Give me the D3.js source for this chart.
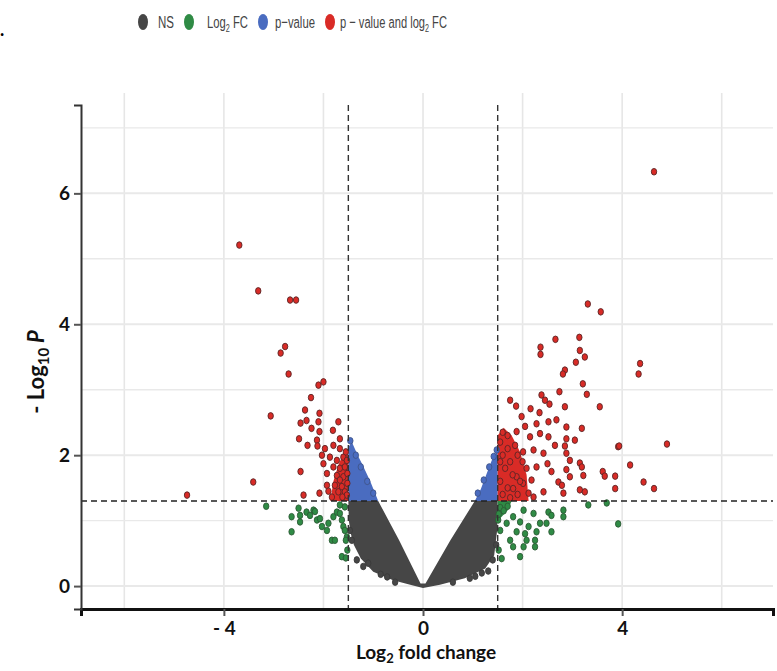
<!DOCTYPE html>
<html>
<head>
<meta charset="utf-8">
<script src="https://cdn.jsdelivr.net/npm/d3@7"></script>
<style>
  body { margin: 0; background: #fff; }
  svg { display: block; }
</style>
</head>
<body>
<div id="chart"></div>
<script>
// values (log2 fold change, -log10 p)
var xTicks = [-4, 0, 4];
var xTickLabels = ["- 4", "0", "4"];
var yTicks = [0, 2, 4, 6];
var xGrid = [-6, -4, -2, 0, 2, 4, 6];
var yGrid = [0, 1, 2, 3, 4, 5, 6, 7];
var fcCutoff = 1.5;
var pCutoff = 1.3;

var legendLabels = ["NS", "Log2 FC", "p-value", "p - value and log2 FC"];

// dense grey V of non significant genes (outline)
var nsBand = [
  [-1.5, 1.3], [-1.49, 1.0], [-1.45, 0.8], [-1.39, 0.63], [-1.25, 0.42], [-1.0, 0.22],
  [-0.6, 0.09], [-0.2, 0.01], [0, -0.03], [0.34, 0.02], [0.84, 0.12], [1.25, 0.27],
  [1.43, 0.47], [1.49, 0.86], [1.5, 1.3], [1.04, 1.3], [0.55, 0.7], [0.05, 0.04],
  [-0.05, 0.04], [-0.48, 0.7], [-0.9, 1.3]
];
var pBandLeft = [[-1.5, 1.3], [-1.5, 2.12], [-1.43, 2.2], [-1.3, 1.98], [-1.22, 1.86], [-1.06, 1.6], [-0.9, 1.3]];
var pBandRight = [[1.04, 1.3], [1.16, 1.48], [1.27, 1.7], [1.38, 1.92], [1.45, 2.02], [1.5, 2.06], [1.5, 1.3]];
var bothCoreLeft = [[-1.5, 1.3], [-1.5, 2.0], [-1.6, 2.02], [-1.7, 1.85], [-1.8, 1.6], [-1.86, 1.3]];
var bothCoreRight = [[1.5, 1.3], [1.5, 2.3], [1.62, 2.42], [1.78, 2.3], [1.95, 2.05], [2.08, 1.7], [2.12, 1.3]];
var fcCoreRight = [[1.5, 1.3], [1.78, 1.3], [1.7, 1.16], [1.58, 1.06], [1.5, 1.0]];

var nsPoints = [
  [-1.33, 0.40], [-1.10, 0.35], [-0.72, 0.14], [-0.56, 0.06], [-1.43, 0.70], [-1.47, 0.85],
  [-1.2, 0.3], [-0.85, 0.18], [0.94, 0.12], [1.18, 0.20], [1.31, 0.23], [1.47, 0.63],
  [1.05, 0.15], [1.4, 0.4], [0.6, 0.06]
];
var pPoints = [
  [-1.46, 2.22], [-1.35, 2.0], [-1.25, 1.82], [-1.12, 1.6], [-1.0, 1.42],
  [1.1, 1.42], [1.22, 1.62], [1.33, 1.82], [1.42, 1.98], [1.48, 2.08]
];
var fcPoints = [
  [-2.64, 1.06], [-2.50, 1.19], [-2.47, 0.98], [-2.34, 1.13], [-2.20, 1.16], [-2.13, 1.01],
  [-2.03, 0.91], [-1.93, 0.85], [-1.80, 1.06], [-1.73, 1.13], [-1.63, 1.01], [-1.60, 0.91],
  [-1.53, 0.75], [-1.83, 0.70], [-1.63, 0.45], [-2.64, 0.83], [-1.57, 1.21], [-1.67, 1.24],
  [-2.47, 1.08], [-2.27, 1.08], [-2.17, 1.14], [-2.07, 1.03], [-1.90, 0.96], [-1.77, 0.70],
  [-1.67, 1.11], [-1.57, 0.85], [-1.55, 0.70], [-1.52, 0.55], [-1.55, 0.43], [-3.15, 1.22],
  [1.51, 1.01], [1.55, 0.85], [1.68, 0.96], [1.81, 1.06], [1.95, 0.98], [1.88, 0.83],
  [1.75, 0.70], [2.08, 0.70], [2.22, 1.11], [1.81, 0.60], [1.95, 0.45], [1.52, 0.55],
  [1.58, 0.42], [2.12, 0.91], [2.28, 0.83], [2.02, 1.16], [2.35, 0.96], [2.52, 1.13],
  [2.58, 1.08], [2.48, 0.96], [2.58, 0.83], [2.25, 0.70], [2.25, 0.60], [2.82, 1.16],
  [2.82, 1.06], [3.32, 1.24], [3.69, 1.27], [3.92, 0.95], [2.05, 0.80], [2.02, 0.60],
  [1.55, 1.2], [1.62, 1.15], [1.7, 1.22], [1.52, 1.1]
];
var bothPoints = [
  // left
  [-4.74, 1.39], [-3.41, 1.59], [-3.69, 5.21], [-3.31, 4.51], [-2.67, 4.37], [-2.55, 4.37],
  [-2.77, 3.66], [-2.86, 3.56], [-2.70, 3.24], [-2.10, 3.07], [-2.00, 3.12], [-2.25, 2.88],
  [-3.06, 2.60], [-2.37, 2.69], [-2.34, 2.53], [-2.46, 2.49], [-2.08, 2.64], [-2.10, 2.51],
  [-2.24, 2.41], [-1.70, 2.51], [-1.81, 2.38], [-2.08, 2.36], [-2.49, 2.25], [-2.13, 2.23],
  [-1.67, 2.25], [-2.32, 2.15], [-2.12, 2.14], [-1.97, 2.10], [-1.80, 2.15], [-1.67, 2.10],
  [-2.03, 2.00], [-1.87, 1.97], [-1.73, 1.92], [-1.60, 1.97], [-2.00, 1.87], [-1.80, 1.82],
  [-1.67, 1.80], [-1.57, 1.82], [-2.46, 1.75], [-1.93, 1.72], [-1.73, 1.69], [-1.60, 1.67],
  [-1.93, 1.54], [-1.77, 1.54], [-1.63, 1.52], [-2.08, 1.42], [-1.70, 1.44], [-1.57, 1.44],
  [-2.40, 1.39], [-1.83, 1.36], [-1.53, 1.39], [-1.67, 1.62], [-1.52, 1.57], [-1.53, 1.92],
  [-1.52, 1.72], [-1.9, 1.45], [-1.62, 1.36], [-1.55, 2.05],
  // right
  [4.64, 6.33], [3.31, 4.31], [3.57, 4.19], [2.66, 3.77], [3.14, 3.80], [2.36, 3.65],
  [2.36, 3.54], [3.15, 3.60], [3.25, 3.50], [3.07, 3.42], [2.85, 3.30], [2.81, 3.24],
  [3.21, 3.09], [3.29, 2.93], [2.74, 2.97], [2.38, 2.92], [2.45, 2.84], [2.54, 2.78],
  [1.75, 2.84], [1.87, 2.75], [2.16, 2.71], [2.34, 2.65], [2.85, 2.74], [3.55, 2.74],
  [1.98, 2.59], [2.05, 2.44], [2.28, 2.48], [2.52, 2.51], [2.68, 2.54], [2.88, 2.43],
  [3.19, 2.41], [2.35, 2.33], [2.15, 2.28], [1.88, 2.36], [2.52, 2.28], [2.88, 2.25],
  [3.05, 2.23], [2.65, 2.15], [2.85, 2.14], [3.92, 2.13], [2.88, 2.03], [2.42, 2.03],
  [2.22, 2.08], [2.01, 2.05], [2.95, 1.92], [3.15, 1.88], [2.50, 1.87], [2.28, 1.82],
  [2.08, 1.80], [3.19, 1.82], [4.16, 1.85], [2.58, 1.75], [2.88, 1.78], [3.61, 1.75],
  [3.65, 1.68], [2.95, 1.67], [3.22, 1.69], [2.72, 1.59], [3.86, 1.68], [2.42, 1.44],
  [2.79, 1.54], [2.82, 1.42], [3.15, 1.47], [3.25, 1.44], [3.86, 1.49], [2.18, 1.62],
  [2.01, 1.57], [1.88, 1.67], [1.81, 1.49], [2.22, 1.36], [2.12, 1.42], [4.36, 3.40],
  [4.33, 3.24], [4.90, 2.17], [3.94, 2.14], [4.43, 1.59], [4.64, 1.49],
  [1.55, 2.2], [1.6, 2.0], [1.7, 2.1], [1.65, 1.8], [1.75, 1.9], [1.55, 1.6], [1.7, 1.5],
  [1.8, 1.7], [1.9, 2.0], [1.95, 1.6], [1.6, 1.4], [1.75, 1.35], [1.9, 1.4], [2.0, 1.9],
  [1.55, 1.9], [1.6, 2.35], [1.7, 2.3], [1.85, 2.15]
];

var colNS = "#464646", colFC = "#2f8b45", colP = "#4a6cc0", colBoth = "#d92b26";

//////////////////////////////////////////////////////////////////////////////

var margin = { top: 105, right: 4, bottom: 62, left: 81 };
var width = 777 - margin.left - margin.right;
var height = 671 - margin.top - margin.bottom;

var svgRoot = d3.select("#chart").append("svg")
  .attr("width", 777)
  .attr("height", 671);

var svg = svgRoot.append("g")
  .attr("transform", "translate(" + margin.left + "," + margin.top + ")");

var xScale = d3.scaleLinear().domain([-6.87, 7.03]).range([0, width]);
var yScale = d3.scaleLinear().domain([-0.35, 7.35]).range([height, 0]);

// grid
svg.selectAll(".vgrid").data(xGrid).enter().append("line")
  .attr("x1", function(d) { return xScale(d); })
  .attr("x2", function(d) { return xScale(d); })
  .attr("y1", -12).attr("y2", height)
  .attr("stroke", "#e6e6e6").attr("stroke-width", 1.6);

svg.selectAll(".hgrid").data(yGrid).enter().append("line")
  .attr("x1", 0).attr("x2", width)
  .attr("y1", function(d) { return yScale(d); })
  .attr("y2", function(d) { return yScale(d); })
  .attr("stroke", "#e9e9e9").attr("stroke-width", function(d) { return d % 2 === 0 ? 2 : 1.4; });

// dense shapes
var line = d3.line()
  .x(function(d) { return xScale(d[0]); })
  .y(function(d) { return yScale(d[1]); })
  .curve(d3.curveLinearClosed);

svg.append("path").attr("d", line(nsBand)).attr("fill", colNS);
svg.append("path").attr("d", line(pBandLeft)).attr("fill", colP);
svg.append("path").attr("d", line(pBandRight)).attr("fill", colP);
svg.append("path").attr("d", line(fcCoreRight)).attr("fill", colFC);
svg.append("path").attr("d", line(bothCoreLeft)).attr("fill", colBoth);
svg.append("path").attr("d", line(bothCoreRight)).attr("fill", colBoth);

function drawPoints(data, fill, stroke) {
  svg.append("g").selectAll("ellipse")
    .data(data)
    .enter()
    .append("ellipse")
    .attr("cx", function(d) { return xScale(d[0]); })
    .attr("cy", function(d) { return yScale(d[1]); })
    .attr("rx", 2.7)
    .attr("ry", 3.3)
    .attr("fill", fill)
    .attr("stroke", stroke)
    .attr("stroke-width", 0.9);
}

drawPoints(nsPoints, colNS, "#3a3a3a");
drawPoints(pPoints, colP, "#40558a");
drawPoints(fcPoints, colFC, "#2d5a36");
drawPoints(bothPoints, colBoth, "#5a2626");

// cut-off lines
svg.selectAll(".vcut").data([-fcCutoff, fcCutoff]).enter().append("line")
  .attr("x1", function(d) { return xScale(d); })
  .attr("x2", function(d) { return xScale(d); })
  .attr("y1", 0).attr("y2", height)
  .attr("stroke", "#333").attr("stroke-width", 1.4)
  .attr("stroke-dasharray", "6,4");

svg.append("line")
  .attr("x1", 0).attr("x2", width)
  .attr("y1", yScale(pCutoff)).attr("y2", yScale(pCutoff))
  .attr("stroke", "#222").attr("stroke-width", 1.5)
  .attr("stroke-dasharray", "6,4");

// axes
var xAxis = svg.append("g")
  .attr("transform", "translate(0," + height + ")")
  .call(d3.axisBottom(xScale).tickValues(xTicks).tickSize(7).tickPadding(6)
    .tickFormat(function(d, i) { return xTickLabels[i]; }));
xAxis.select(".domain").attr("stroke", "#111").attr("stroke-width", 3);
xAxis.selectAll(".tick line").attr("stroke", "#555").attr("stroke-width", 2);
xAxis.selectAll("text")
  .style("font-family", "Lato, 'Open Sans', sans-serif")
  .style("font-weight", "bold").style("font-size", "19px").attr("fill", "#111");

var yAxis = svg.append("g")
  .call(d3.axisLeft(yScale).tickValues(yTicks).tickSize(7).tickPadding(4).tickFormat(d3.format("d")));
yAxis.select(".domain").attr("stroke", "#333").attr("stroke-width", 2);
yAxis.selectAll(".tick line").attr("stroke", "#555").attr("stroke-width", 2);
yAxis.selectAll("text")
  .style("font-family", "Lato, 'Open Sans', sans-serif")
  .style("font-weight", "bold").style("font-size", "19px").attr("fill", "#111");

// axis titles
var xTitle = svgRoot.append("text")
  .attr("x", 426).attr("y", 659)
  .attr("text-anchor", "middle")
  .style("font-family", "Lato, 'Open Sans', sans-serif")
  .style("font-weight", "bold").style("font-size", "19px").attr("fill", "#111");
xTitle.append("tspan").text("Log");
xTitle.append("tspan").text("2").attr("dy", 4).style("font-size", "13px");
xTitle.append("tspan").text(" fold change").attr("dy", -4);

var yTitle = svgRoot.append("text")
  .attr("transform", "translate(44,372) rotate(-90)")
  .attr("text-anchor", "middle")
  .style("font-family", "Lato, 'Open Sans', sans-serif")
  .style("font-weight", "bold").style("font-size", "22px").attr("fill", "#111");
yTitle.append("tspan").text("- Log");
yTitle.append("tspan").text("10").attr("dy", 5).style("font-size", "15px");
yTitle.append("tspan").text(" P").attr("dy", -5).style("font-style", "italic");

// legend (text squeezed horizontally like the picture)
var legendX = [143, 189, 263, 330];
var legendTextX = [158, 207, 275, 340];
var legendWidths = [16, 41, 40, 107];
var legendCols = [colNS, colFC, colP, colBoth];
var legend = svgRoot.append("g");

legendLabels.forEach(function(label, i) {
  legend.append("ellipse")
    .attr("cx", legendX[i]).attr("cy", 22)
    .attr("rx", 5).attr("ry", 8)
    .attr("fill", legendCols[i]);
  var g = legend.append("g");
  var t = g.append("text")
    .attr("x", 0).attr("y", 0)
    .style("font-family", "'Liberation Sans', sans-serif")
    .style("font-size", "17px").attr("fill", "#444");
  var m = label.match(/^(.*og)2(.*)$/);
  if (m) {
    t.append("tspan").text(m[1].replace(/-/g, "\u2212"));
    t.append("tspan").text("2").attr("dy", 4).style("font-size", "11px");
    t.append("tspan").text(m[2]).attr("dy", -4);
  } else {
    t.text(label.replace(/-/g, "\u2212"));
  }
  var w = t.node().getComputedTextLength();
  g.attr("transform", "translate(" + legendTextX[i] + ",28) scale(" + (legendWidths[i] / w) + ",1)");
});

// stray period at the left edge
svgRoot.append("text").attr("x", 0).attr("y", 36)
  .style("font-family", "Lato, sans-serif").style("font-weight", "bold")
  .style("font-size", "18px").attr("fill", "#000").text(".");
</script>
</body>
</html>
